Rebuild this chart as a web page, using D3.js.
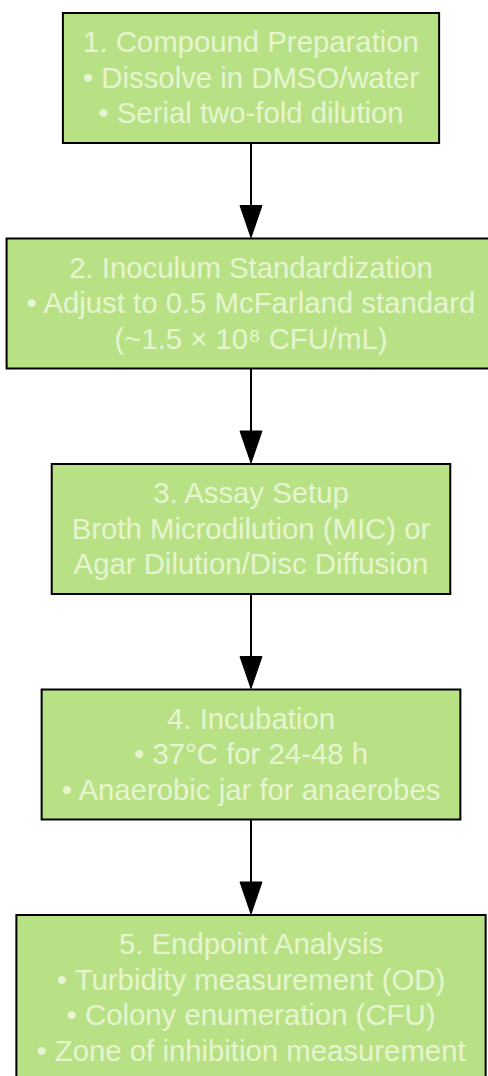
<!DOCTYPE html>
<html>
<head>
<meta charset="utf-8">
<script src="https://cdn.jsdelivr.net/npm/d3@7"></script>
<style>
  html, body { margin: 0; padding: 0; background: #ffffff; overflow: hidden; }
  svg { display: block; }
</style>
</head>
<body>
<div id="chart"></div>
<script>
// Flow steps: title + detail lines for each box
const stepTitles = [
    '1. Compound Preparation',
    '2. Inoculum Standardization',
    '3. Assay Setup',
    '4. Incubation',
    '5. Endpoint Analysis'
];
const stepDetails = [
    ['• Dissolve in DMSO/water', '• Serial two-fold dilution'],
    ['• Adjust to 0.5 McFarland standard', '(~1.5 × 10⁸ CFU/mL)'],
    ['Broth Microdilution (MIC) or', 'Agar Dilution/Disc Diffusion'],
    ['• 37°C for 24-48 h', '• Anaerobic jar for anaerobes'],
    ['• Turbidity measurement (OD)', '• Colony enumeration (CFU)', '• Zone of inhibition measurement']
];

const width = 488;
const height = 1076;
const cx = 251;
const fontSize = 29.33;
const lineHeight = 35.5;
const padX = 20;
const padY = 12;
const arrowW = 22;
const arrowH = 32;

const fill = '#b8e186';
const textColor = '#e6f5d0';

const steps = stepTitles.map((t, i) => ({ index: i, lines: [t].concat(stepDetails[i]) }));

// y position of each box top
const y = d3.scaleLinear()
    .domain([0, 1])
    .range([13, 238.5]);

const svg = d3.select('#chart')
    .append('svg')
    .attr('width', width)
    .attr('height', height);

const nodes = svg.selectAll('.node')
    .data(steps)
    .enter()
    .append('g')
    .attr('class', 'node')
    .attr('transform', d => `translate(${cx},${y(d.index)})`);

const rects = nodes.append('rect')
    .attr('fill', fill)
    .attr('stroke', '#000')
    .attr('stroke-width', 2);

const texts = nodes.append('text')
    .attr('text-anchor', 'middle')
    .attr('font-family', '"Liberation Sans", Arial, sans-serif')
    .attr('font-size', fontSize + 'px')
    .attr('fill', textColor);

texts.selectAll('tspan')
    .data(d => d.lines)
    .enter()
    .append('tspan')
    .attr('x', 0)
    .attr('y', (d, i) => padY + 27 + i * lineHeight)
    .text(d => d);

// size boxes from their text
nodes.each(function(d) {
    const t = d3.select(this).select('text').node();
    let w = 0;
    d3.select(t).selectAll('tspan').each(function() {
        w = Math.max(w, this.getComputedTextLength());
    });
    d.w = w + padX * 2;
    d.h = d.lines.length * lineHeight + padY * 2 - 0.5;
});

rects
    .attr('x', d => -d.w / 2)
    .attr('y', 0)
    .attr('width', d => d.w)
    .attr('height', d => d.h);

// arrows between consecutive boxes
const links = d3.pairs(steps);
const arrows = svg.selectAll('.edge')
    .data(links)
    .enter()
    .append('g')
    .attr('class', 'edge');

arrows.append('line')
    .attr('x1', cx)
    .attr('x2', cx)
    .attr('y1', d => y(d[0].index) + d[0].h)
    .attr('y2', d => y(d[1].index) - arrowH + 2)
    .attr('stroke', '#000')
    .attr('stroke-width', 2);

arrows.append('path')
    .attr('fill', '#000')
    .attr('stroke', '#000')
    .attr('stroke-width', 1)
    .attr('d', d => {
        const tip = y(d[1].index) - 1;
        return `M${cx},${tip}L${cx - arrowW / 2},${tip - arrowH}L${cx + arrowW / 2},${tip - arrowH}Z`;
    });
</script>
</body>
</html>
